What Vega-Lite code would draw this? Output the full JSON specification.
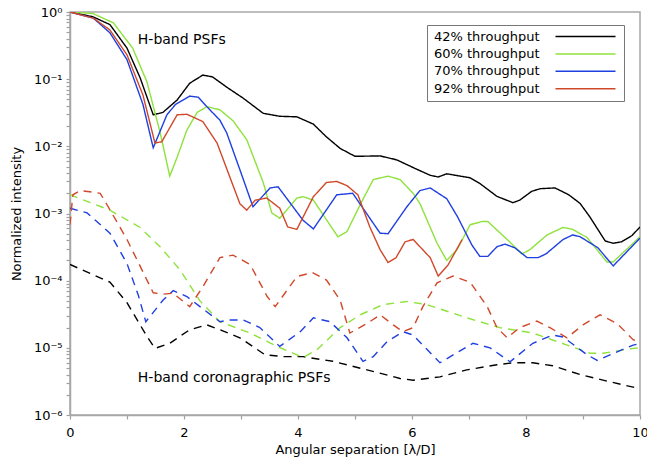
{
  "$schema": "https://vega.github.io/schema/vega-lite/v6.json",
  "width": 570,
  "height": 403,
  "autosize": {"type": "none"},
  "padding": {"left": 70, "top": 12, "right": 7, "bottom": 47},
  "background": "white",
  "config": {
    "view": {"stroke": "#a8a8a8", "strokeWidth": 1.5},
    "font": "DejaVu Sans",
    "axis": {
      "domainColor": "#a8a8a8",
      "domainWidth": 1.5,
      "tickColor": "#a0a0a0",
      "tickWidth": 1.2,
      "tickSize": 4,
      "grid": false,
      "labelColor": "#000",
      "labelFontSize": 13,
      "titleFontSize": 13,
      "titleFontWeight": "normal",
      "titleColor": "#000",
      "labelOverlap": false
    }
  },
  "datasets": {
    "notes": [
      {"separation": 1.19, "intensity": 0.383, "label": "H-band PSFs"},
      {"separation": 1.19, "intensity": 0.0000035, "label": "H-band coronagraphic PSFs"}
    ]
  },
  "layer": [
    {
      "data": {
        "values": [
          {"separation":0,"intensity":1,"series":"42% throughput","kind":"PSF"},
          {"separation":0.4,"intensity":0.85,"series":"42% throughput","kind":"PSF"},
          {"separation":0.7,"intensity":0.65,"series":"42% throughput","kind":"PSF"},
          {"separation":1.0,"intensity":0.29,"series":"42% throughput","kind":"PSF"},
          {"separation":1.23,"intensity":0.105,"series":"42% throughput","kind":"PSF"},
          {"separation":1.46,"intensity":0.0295,"series":"42% throughput","kind":"PSF"},
          {"separation":1.63,"intensity":0.032,"series":"42% throughput","kind":"PSF"},
          {"separation":1.88,"intensity":0.049,"series":"42% throughput","kind":"PSF"},
          {"separation":2.1,"intensity":0.087,"series":"42% throughput","kind":"PSF"},
          {"separation":2.33,"intensity":0.115,"series":"42% throughput","kind":"PSF"},
          {"separation":2.5,"intensity":0.108,"series":"42% throughput","kind":"PSF"},
          {"separation":2.75,"intensity":0.076,"series":"42% throughput","kind":"PSF"},
          {"separation":3.04,"intensity":0.052,"series":"42% throughput","kind":"PSF"},
          {"separation":3.39,"intensity":0.031,"series":"42% throughput","kind":"PSF"},
          {"separation":3.68,"intensity":0.028,"series":"42% throughput","kind":"PSF"},
          {"separation":3.98,"intensity":0.0275,"series":"42% throughput","kind":"PSF"},
          {"separation":4.27,"intensity":0.0214,"series":"42% throughput","kind":"PSF"},
          {"separation":4.5,"intensity":0.0138,"series":"42% throughput","kind":"PSF"},
          {"separation":4.74,"intensity":0.0093,"series":"42% throughput","kind":"PSF"},
          {"separation":5.0,"intensity":0.0071,"series":"42% throughput","kind":"PSF"},
          {"separation":5.44,"intensity":0.0072,"series":"42% throughput","kind":"PSF"},
          {"separation":5.73,"intensity":0.0063,"series":"42% throughput","kind":"PSF"},
          {"separation":6.05,"intensity":0.0047,"series":"42% throughput","kind":"PSF"},
          {"separation":6.32,"intensity":0.0037,"series":"42% throughput","kind":"PSF"},
          {"separation":6.46,"intensity":0.0035,"series":"42% throughput","kind":"PSF"},
          {"separation":6.61,"intensity":0.0039,"series":"42% throughput","kind":"PSF"},
          {"separation":7.02,"intensity":0.0034,"series":"42% throughput","kind":"PSF"},
          {"separation":7.19,"intensity":0.0028,"series":"42% throughput","kind":"PSF"},
          {"separation":7.49,"intensity":0.0018,"series":"42% throughput","kind":"PSF"},
          {"separation":7.77,"intensity":0.00145,"series":"42% throughput","kind":"PSF"},
          {"separation":7.89,"intensity":0.00158,"series":"42% throughput","kind":"PSF"},
          {"separation":8.1,"intensity":0.00214,"series":"42% throughput","kind":"PSF"},
          {"separation":8.25,"intensity":0.00234,"series":"42% throughput","kind":"PSF"},
          {"separation":8.51,"intensity":0.0024,"series":"42% throughput","kind":"PSF"},
          {"separation":8.75,"intensity":0.0019,"series":"42% throughput","kind":"PSF"},
          {"separation":8.95,"intensity":0.00141,"series":"42% throughput","kind":"PSF"},
          {"separation":9.12,"intensity":0.00089,"series":"42% throughput","kind":"PSF"},
          {"separation":9.39,"intensity":0.00039,"series":"42% throughput","kind":"PSF"},
          {"separation":9.53,"intensity":0.00036,"series":"42% throughput","kind":"PSF"},
          {"separation":9.68,"intensity":0.00038,"series":"42% throughput","kind":"PSF"},
          {"separation":9.86,"intensity":0.00047,"series":"42% throughput","kind":"PSF"},
          {"separation":10,"intensity":0.00063,"series":"42% throughput","kind":"PSF"},

          {"separation":0,"intensity":1,"series":"60% throughput","kind":"PSF"},
          {"separation":0.4,"intensity":0.95,"series":"60% throughput","kind":"PSF"},
          {"separation":0.76,"intensity":0.69,"series":"60% throughput","kind":"PSF"},
          {"separation":1.1,"intensity":0.29,"series":"60% throughput","kind":"PSF"},
          {"separation":1.35,"intensity":0.091,"series":"60% throughput","kind":"PSF"},
          {"separation":1.58,"intensity":0.0162,"series":"60% throughput","kind":"PSF"},
          {"separation":1.75,"intensity":0.0036,"series":"60% throughput","kind":"PSF"},
          {"separation":1.88,"intensity":0.0069,"series":"60% throughput","kind":"PSF"},
          {"separation":2.05,"intensity":0.0174,"series":"60% throughput","kind":"PSF"},
          {"separation":2.23,"intensity":0.032,"series":"60% throughput","kind":"PSF"},
          {"separation":2.4,"intensity":0.039,"series":"60% throughput","kind":"PSF"},
          {"separation":2.63,"intensity":0.035,"series":"60% throughput","kind":"PSF"},
          {"separation":2.86,"intensity":0.024,"series":"60% throughput","kind":"PSF"},
          {"separation":3.1,"intensity":0.0126,"series":"60% throughput","kind":"PSF"},
          {"separation":3.39,"intensity":0.0029,"series":"60% throughput","kind":"PSF"},
          {"separation":3.54,"intensity":0.00102,"series":"60% throughput","kind":"PSF"},
          {"separation":3.68,"intensity":0.00085,"series":"60% throughput","kind":"PSF"},
          {"separation":3.98,"intensity":0.0017,"series":"60% throughput","kind":"PSF"},
          {"separation":4.09,"intensity":0.00178,"series":"60% throughput","kind":"PSF"},
          {"separation":4.27,"intensity":0.00158,"series":"60% throughput","kind":"PSF"},
          {"separation":4.7,"intensity":0.00045,"series":"60% throughput","kind":"PSF"},
          {"separation":4.86,"intensity":0.00054,"series":"60% throughput","kind":"PSF"},
          {"separation":5.1,"intensity":0.0014,"series":"60% throughput","kind":"PSF"},
          {"separation":5.32,"intensity":0.0032,"series":"60% throughput","kind":"PSF"},
          {"separation":5.58,"intensity":0.0036,"series":"60% throughput","kind":"PSF"},
          {"separation":5.79,"intensity":0.0032,"series":"60% throughput","kind":"PSF"},
          {"separation":6.02,"intensity":0.002,"series":"60% throughput","kind":"PSF"},
          {"separation":6.14,"intensity":0.0014,"series":"60% throughput","kind":"PSF"},
          {"separation":6.44,"intensity":0.00036,"series":"60% throughput","kind":"PSF"},
          {"separation":6.61,"intensity":0.0002,"series":"60% throughput","kind":"PSF"},
          {"separation":6.79,"intensity":0.00029,"series":"60% throughput","kind":"PSF"},
          {"separation":7.02,"intensity":0.00068,"series":"60% throughput","kind":"PSF"},
          {"separation":7.23,"intensity":0.00076,"series":"60% throughput","kind":"PSF"},
          {"separation":7.33,"intensity":0.00076,"series":"60% throughput","kind":"PSF"},
          {"separation":7.67,"intensity":0.00041,"series":"60% throughput","kind":"PSF"},
          {"separation":7.93,"intensity":0.00025,"series":"60% throughput","kind":"PSF"},
          {"separation":8.07,"intensity":0.00029,"series":"60% throughput","kind":"PSF"},
          {"separation":8.37,"intensity":0.00048,"series":"60% throughput","kind":"PSF"},
          {"separation":8.65,"intensity":0.00062,"series":"60% throughput","kind":"PSF"},
          {"separation":8.82,"intensity":0.00058,"series":"60% throughput","kind":"PSF"},
          {"separation":9.07,"intensity":0.00044,"series":"60% throughput","kind":"PSF"},
          {"separation":9.42,"intensity":0.00019,"series":"60% throughput","kind":"PSF"},
          {"separation":9.53,"intensity":0.00019,"series":"60% throughput","kind":"PSF"},
          {"separation":10,"intensity":0.00045,"series":"60% throughput","kind":"PSF"},

          {"separation":0,"intensity":1,"series":"70% throughput","kind":"PSF"},
          {"separation":0.41,"intensity":0.81,"series":"70% throughput","kind":"PSF"},
          {"separation":0.7,"intensity":0.49,"series":"70% throughput","kind":"PSF"},
          {"separation":1.0,"intensity":0.195,"series":"70% throughput","kind":"PSF"},
          {"separation":1.28,"intensity":0.042,"series":"70% throughput","kind":"PSF"},
          {"separation":1.46,"intensity":0.0095,"series":"70% throughput","kind":"PSF"},
          {"separation":1.7,"intensity":0.0295,"series":"70% throughput","kind":"PSF"},
          {"separation":1.85,"intensity":0.042,"series":"70% throughput","kind":"PSF"},
          {"separation":2.1,"intensity":0.056,"series":"70% throughput","kind":"PSF"},
          {"separation":2.25,"intensity":0.054,"series":"70% throughput","kind":"PSF"},
          {"separation":2.4,"intensity":0.039,"series":"70% throughput","kind":"PSF"},
          {"separation":2.63,"intensity":0.0245,"series":"70% throughput","kind":"PSF"},
          {"separation":2.75,"intensity":0.0158,"series":"70% throughput","kind":"PSF"},
          {"separation":2.98,"intensity":0.0045,"series":"70% throughput","kind":"PSF"},
          {"separation":3.21,"intensity":0.00126,"series":"70% throughput","kind":"PSF"},
          {"separation":3.51,"intensity":0.0024,"series":"70% throughput","kind":"PSF"},
          {"separation":3.65,"intensity":0.0025,"series":"70% throughput","kind":"PSF"},
          {"separation":4.09,"intensity":0.00079,"series":"70% throughput","kind":"PSF"},
          {"separation":4.27,"intensity":0.00059,"series":"70% throughput","kind":"PSF"},
          {"separation":4.68,"intensity":0.0019,"series":"70% throughput","kind":"PSF"},
          {"separation":4.96,"intensity":0.002,"series":"70% throughput","kind":"PSF"},
          {"separation":5.44,"intensity":0.00051,"series":"70% throughput","kind":"PSF"},
          {"separation":5.58,"intensity":0.0005,"series":"70% throughput","kind":"PSF"},
          {"separation":5.91,"intensity":0.00126,"series":"70% throughput","kind":"PSF"},
          {"separation":6.14,"intensity":0.0022,"series":"70% throughput","kind":"PSF"},
          {"separation":6.32,"intensity":0.0024,"series":"70% throughput","kind":"PSF"},
          {"separation":6.61,"intensity":0.00166,"series":"70% throughput","kind":"PSF"},
          {"separation":6.8,"intensity":0.00089,"series":"70% throughput","kind":"PSF"},
          {"separation":7.05,"intensity":0.00034,"series":"70% throughput","kind":"PSF"},
          {"separation":7.19,"intensity":0.00023,"series":"70% throughput","kind":"PSF"},
          {"separation":7.33,"intensity":0.00023,"series":"70% throughput","kind":"PSF"},
          {"separation":7.49,"intensity":0.00032,"series":"70% throughput","kind":"PSF"},
          {"separation":7.63,"intensity":0.00035,"series":"70% throughput","kind":"PSF"},
          {"separation":7.8,"intensity":0.00031,"series":"70% throughput","kind":"PSF"},
          {"separation":8.02,"intensity":0.00022,"series":"70% throughput","kind":"PSF"},
          {"separation":8.21,"intensity":0.00022,"series":"70% throughput","kind":"PSF"},
          {"separation":8.35,"intensity":0.00025,"series":"70% throughput","kind":"PSF"},
          {"separation":8.65,"intensity":0.00041,"series":"70% throughput","kind":"PSF"},
          {"separation":8.82,"intensity":0.00048,"series":"70% throughput","kind":"PSF"},
          {"separation":8.95,"intensity":0.00045,"series":"70% throughput","kind":"PSF"},
          {"separation":9.26,"intensity":0.00031,"series":"70% throughput","kind":"PSF"},
          {"separation":9.53,"intensity":0.000166,"series":"70% throughput","kind":"PSF"},
          {"separation":10,"intensity":0.00043,"series":"70% throughput","kind":"PSF"},

          {"separation":0,"intensity":1,"series":"92% throughput","kind":"PSF"},
          {"separation":0.41,"intensity":0.81,"series":"92% throughput","kind":"PSF"},
          {"separation":0.7,"intensity":0.54,"series":"92% throughput","kind":"PSF"},
          {"separation":1.0,"intensity":0.23,"series":"92% throughput","kind":"PSF"},
          {"separation":1.28,"intensity":0.058,"series":"92% throughput","kind":"PSF"},
          {"separation":1.49,"intensity":0.0112,"series":"92% throughput","kind":"PSF"},
          {"separation":1.61,"intensity":0.0117,"series":"92% throughput","kind":"PSF"},
          {"separation":1.88,"intensity":0.0295,"series":"92% throughput","kind":"PSF"},
          {"separation":2.05,"intensity":0.03,"series":"92% throughput","kind":"PSF"},
          {"separation":2.33,"intensity":0.0234,"series":"92% throughput","kind":"PSF"},
          {"separation":2.58,"intensity":0.0112,"series":"92% throughput","kind":"PSF"},
          {"separation":2.98,"intensity":0.0014,"series":"92% throughput","kind":"PSF"},
          {"separation":3.1,"intensity":0.00112,"series":"92% throughput","kind":"PSF"},
          {"separation":3.25,"intensity":0.00158,"series":"92% throughput","kind":"PSF"},
          {"separation":3.45,"intensity":0.0017,"series":"92% throughput","kind":"PSF"},
          {"separation":3.68,"intensity":0.0012,"series":"92% throughput","kind":"PSF"},
          {"separation":3.82,"intensity":0.00063,"series":"92% throughput","kind":"PSF"},
          {"separation":3.98,"intensity":0.00058,"series":"92% throughput","kind":"PSF"},
          {"separation":4.27,"intensity":0.00178,"series":"92% throughput","kind":"PSF"},
          {"separation":4.5,"intensity":0.0029,"series":"92% throughput","kind":"PSF"},
          {"separation":4.68,"intensity":0.003,"series":"92% throughput","kind":"PSF"},
          {"separation":4.86,"intensity":0.0026,"series":"92% throughput","kind":"PSF"},
          {"separation":5.05,"intensity":0.0019,"series":"92% throughput","kind":"PSF"},
          {"separation":5.26,"intensity":0.00063,"series":"92% throughput","kind":"PSF"},
          {"separation":5.44,"intensity":0.00029,"series":"92% throughput","kind":"PSF"},
          {"separation":5.58,"intensity":0.000186,"series":"92% throughput","kind":"PSF"},
          {"separation":5.72,"intensity":0.00022,"series":"92% throughput","kind":"PSF"},
          {"separation":5.88,"intensity":0.00038,"series":"92% throughput","kind":"PSF"},
          {"separation":6.02,"intensity":0.00041,"series":"92% throughput","kind":"PSF"},
          {"separation":6.32,"intensity":0.00022,"series":"92% throughput","kind":"PSF"},
          {"separation":6.46,"intensity":0.000117,"series":"92% throughput","kind":"PSF"},
          {"separation":6.63,"intensity":0.00017,"series":"92% throughput","kind":"PSF"},
          {"separation":6.88,"intensity":0.00041,"series":"92% throughput","kind":"PSF"},

          {"separation":0,"intensity":0.000174,"series":"42% throughput","kind":"coronagraphic"},
          {"separation":0.7,"intensity":0.000095,"series":"42% throughput","kind":"coronagraphic"},
          {"separation":1.0,"intensity":0.000047,"series":"42% throughput","kind":"coronagraphic"},
          {"separation":1.35,"intensity":0.0000148,"series":"42% throughput","kind":"coronagraphic"},
          {"separation":1.49,"intensity":0.0000098,"series":"42% throughput","kind":"coronagraphic"},
          {"separation":1.75,"intensity":0.0000117,"series":"42% throughput","kind":"coronagraphic"},
          {"separation":2.1,"intensity":0.0000186,"series":"42% throughput","kind":"coronagraphic"},
          {"separation":2.4,"intensity":0.000022,"series":"42% throughput","kind":"coronagraphic"},
          {"separation":2.63,"intensity":0.0000186,"series":"42% throughput","kind":"coronagraphic"},
          {"separation":2.98,"intensity":0.0000141,"series":"42% throughput","kind":"coronagraphic"},
          {"separation":3.42,"intensity":0.0000079,"series":"42% throughput","kind":"coronagraphic"},
          {"separation":3.74,"intensity":0.0000074,"series":"42% throughput","kind":"coronagraphic"},
          {"separation":4.09,"intensity":0.0000074,"series":"42% throughput","kind":"coronagraphic"},
          {"separation":4.61,"intensity":0.0000063,"series":"42% throughput","kind":"coronagraphic"},
          {"separation":5.21,"intensity":0.0000047,"series":"42% throughput","kind":"coronagraphic"},
          {"separation":5.79,"intensity":0.0000035,"series":"42% throughput","kind":"coronagraphic"},
          {"separation":6.02,"intensity":0.0000033,"series":"42% throughput","kind":"coronagraphic"},
          {"separation":6.49,"intensity":0.0000037,"series":"42% throughput","kind":"coronagraphic"},
          {"separation":6.96,"intensity":0.0000047,"series":"42% throughput","kind":"coronagraphic"},
          {"separation":7.49,"intensity":0.0000056,"series":"42% throughput","kind":"coronagraphic"},
          {"separation":7.77,"intensity":0.000006,"series":"42% throughput","kind":"coronagraphic"},
          {"separation":8.12,"intensity":0.000006,"series":"42% throughput","kind":"coronagraphic"},
          {"separation":8.47,"intensity":0.0000054,"series":"42% throughput","kind":"coronagraphic"},
          {"separation":8.95,"intensity":0.000004,"series":"42% throughput","kind":"coronagraphic"},
          {"separation":9.42,"intensity":0.0000032,"series":"42% throughput","kind":"coronagraphic"},
          {"separation":9.88,"intensity":0.0000026,"series":"42% throughput","kind":"coronagraphic"},
          {"separation":10,"intensity":0.0000025,"series":"42% throughput","kind":"coronagraphic"},

          {"separation":0,"intensity":0.0019,"series":"60% throughput","kind":"coronagraphic"},
          {"separation":0.7,"intensity":0.00112,"series":"60% throughput","kind":"coronagraphic"},
          {"separation":1.23,"intensity":0.00062,"series":"60% throughput","kind":"coronagraphic"},
          {"separation":1.58,"intensity":0.00032,"series":"60% throughput","kind":"coronagraphic"},
          {"separation":1.93,"intensity":0.000145,"series":"60% throughput","kind":"coronagraphic"},
          {"separation":2.28,"intensity":0.00005,"series":"60% throughput","kind":"coronagraphic"},
          {"separation":2.63,"intensity":0.0000245,"series":"60% throughput","kind":"coronagraphic"},
          {"separation":3.16,"intensity":0.0000166,"series":"60% throughput","kind":"coronagraphic"},
          {"separation":3.63,"intensity":0.0000105,"series":"60% throughput","kind":"coronagraphic"},
          {"separation":4.09,"intensity":0.0000072,"series":"60% throughput","kind":"coronagraphic"},
          {"separation":4.33,"intensity":0.0000093,"series":"60% throughput","kind":"coronagraphic"},
          {"separation":4.74,"intensity":0.00002,"series":"60% throughput","kind":"coronagraphic"},
          {"separation":5.09,"intensity":0.000031,"series":"60% throughput","kind":"coronagraphic"},
          {"separation":5.49,"intensity":0.000044,"series":"60% throughput","kind":"coronagraphic"},
          {"separation":5.91,"intensity":0.000049,"series":"60% throughput","kind":"coronagraphic"},
          {"separation":6.26,"intensity":0.000044,"series":"60% throughput","kind":"coronagraphic"},
          {"separation":6.96,"intensity":0.000028,"series":"60% throughput","kind":"coronagraphic"},
          {"separation":7.54,"intensity":0.00002,"series":"60% throughput","kind":"coronagraphic"},
          {"separation":8.12,"intensity":0.0000166,"series":"60% throughput","kind":"coronagraphic"},
          {"separation":8.72,"intensity":0.000011,"series":"60% throughput","kind":"coronagraphic"},
          {"separation":9.12,"intensity":0.0000083,"series":"60% throughput","kind":"coronagraphic"},
          {"separation":9.35,"intensity":0.0000083,"series":"60% throughput","kind":"coronagraphic"},
          {"separation":9.88,"intensity":0.0000098,"series":"60% throughput","kind":"coronagraphic"},
          {"separation":10,"intensity":0.00001,"series":"60% throughput","kind":"coronagraphic"},

          {"separation":0,"intensity":0.0012,"series":"70% throughput","kind":"coronagraphic"},
          {"separation":0.3,"intensity":0.00102,"series":"70% throughput","kind":"coronagraphic"},
          {"separation":0.7,"intensity":0.00051,"series":"70% throughput","kind":"coronagraphic"},
          {"separation":1.0,"intensity":0.00018,"series":"70% throughput","kind":"coronagraphic"},
          {"separation":1.2,"intensity":0.00006,"series":"70% throughput","kind":"coronagraphic"},
          {"separation":1.33,"intensity":0.0000245,"series":"70% throughput","kind":"coronagraphic"},
          {"separation":1.63,"intensity":0.000051,"series":"70% throughput","kind":"coronagraphic"},
          {"separation":1.81,"intensity":0.000071,"series":"70% throughput","kind":"coronagraphic"},
          {"separation":2.05,"intensity":0.000058,"series":"70% throughput","kind":"coronagraphic"},
          {"separation":2.28,"intensity":0.000041,"series":"70% throughput","kind":"coronagraphic"},
          {"separation":2.63,"intensity":0.0000245,"series":"70% throughput","kind":"coronagraphic"},
          {"separation":2.8,"intensity":0.000026,"series":"70% throughput","kind":"coronagraphic"},
          {"separation":3.04,"intensity":0.000026,"series":"70% throughput","kind":"coronagraphic"},
          {"separation":3.33,"intensity":0.00002,"series":"70% throughput","kind":"coronagraphic"},
          {"separation":3.68,"intensity":0.0000105,"series":"70% throughput","kind":"coronagraphic"},
          {"separation":4.04,"intensity":0.0000174,"series":"70% throughput","kind":"coronagraphic"},
          {"separation":4.27,"intensity":0.000028,"series":"70% throughput","kind":"coronagraphic"},
          {"separation":4.56,"intensity":0.0000245,"series":"70% throughput","kind":"coronagraphic"},
          {"separation":4.86,"intensity":0.0000141,"series":"70% throughput","kind":"coronagraphic"},
          {"separation":5.14,"intensity":0.0000063,"series":"70% throughput","kind":"coronagraphic"},
          {"separation":5.32,"intensity":0.0000074,"series":"70% throughput","kind":"coronagraphic"},
          {"separation":5.56,"intensity":0.0000123,"series":"70% throughput","kind":"coronagraphic"},
          {"separation":5.84,"intensity":0.0000174,"series":"70% throughput","kind":"coronagraphic"},
          {"separation":6.02,"intensity":0.0000155,"series":"70% throughput","kind":"coronagraphic"},
          {"separation":6.49,"intensity":0.000006,"series":"70% throughput","kind":"coronagraphic"},
          {"separation":7.07,"intensity":0.0000117,"series":"70% throughput","kind":"coronagraphic"},
          {"separation":7.37,"intensity":0.00001,"series":"70% throughput","kind":"coronagraphic"},
          {"separation":7.72,"intensity":0.0000062,"series":"70% throughput","kind":"coronagraphic"},
          {"separation":8.12,"intensity":0.0000117,"series":"70% throughput","kind":"coronagraphic"},
          {"separation":8.47,"intensity":0.0000155,"series":"70% throughput","kind":"coronagraphic"},
          {"separation":8.65,"intensity":0.0000145,"series":"70% throughput","kind":"coronagraphic"},
          {"separation":9.07,"intensity":0.0000079,"series":"70% throughput","kind":"coronagraphic"},
          {"separation":9.25,"intensity":0.0000065,"series":"70% throughput","kind":"coronagraphic"},
          {"separation":9.88,"intensity":0.000011,"series":"70% throughput","kind":"coronagraphic"},
          {"separation":10,"intensity":0.0000115,"series":"70% throughput","kind":"coronagraphic"},

          {"separation":0,"intensity":0.00068,"series":"92% throughput","kind":"coronagraphic"},
          {"separation":0.05,"intensity":0.0019,"series":"92% throughput","kind":"coronagraphic"},
          {"separation":0.18,"intensity":0.0022,"series":"92% throughput","kind":"coronagraphic"},
          {"separation":0.53,"intensity":0.002,"series":"92% throughput","kind":"coronagraphic"},
          {"separation":0.65,"intensity":0.00135,"series":"92% throughput","kind":"coronagraphic"},
          {"separation":1.0,"intensity":0.00041,"series":"92% throughput","kind":"coronagraphic"},
          {"separation":1.35,"intensity":0.000102,"series":"92% throughput","kind":"coronagraphic"},
          {"separation":1.46,"intensity":0.000066,"series":"92% throughput","kind":"coronagraphic"},
          {"separation":1.63,"intensity":0.000063,"series":"92% throughput","kind":"coronagraphic"},
          {"separation":1.81,"intensity":0.000065,"series":"92% throughput","kind":"coronagraphic"},
          {"separation":2.1,"intensity":0.000041,"series":"92% throughput","kind":"coronagraphic"},
          {"separation":2.33,"intensity":0.000081,"series":"92% throughput","kind":"coronagraphic"},
          {"separation":2.63,"intensity":0.00022,"series":"92% throughput","kind":"coronagraphic"},
          {"separation":2.86,"intensity":0.00024,"series":"92% throughput","kind":"coronagraphic"},
          {"separation":3.16,"intensity":0.000174,"series":"92% throughput","kind":"coronagraphic"},
          {"separation":3.46,"intensity":0.000058,"series":"92% throughput","kind":"coronagraphic"},
          {"separation":3.6,"intensity":0.000041,"series":"92% throughput","kind":"coronagraphic"},
          {"separation":3.98,"intensity":0.000115,"series":"92% throughput","kind":"coronagraphic"},
          {"separation":4.25,"intensity":0.000132,"series":"92% throughput","kind":"coronagraphic"},
          {"separation":4.5,"intensity":0.000102,"series":"92% throughput","kind":"coronagraphic"},
          {"separation":4.74,"intensity":0.000051,"series":"92% throughput","kind":"coronagraphic"},
          {"separation":4.91,"intensity":0.0000166,"series":"92% throughput","kind":"coronagraphic"},
          {"separation":5.21,"intensity":0.000023,"series":"92% throughput","kind":"coronagraphic"},
          {"separation":5.44,"intensity":0.000031,"series":"92% throughput","kind":"coronagraphic"},
          {"separation":5.67,"intensity":0.000022,"series":"92% throughput","kind":"coronagraphic"},
          {"separation":5.84,"intensity":0.0000174,"series":"92% throughput","kind":"coronagraphic"},
          {"separation":6.02,"intensity":0.00002,"series":"92% throughput","kind":"coronagraphic"},
          {"separation":6.19,"intensity":0.000041,"series":"92% throughput","kind":"coronagraphic"},
          {"separation":6.44,"intensity":0.000093,"series":"92% throughput","kind":"coronagraphic"},
          {"separation":6.72,"intensity":0.000117,"series":"92% throughput","kind":"coronagraphic"},
          {"separation":7.02,"intensity":0.000095,"series":"92% throughput","kind":"coronagraphic"},
          {"separation":7.32,"intensity":0.000041,"series":"92% throughput","kind":"coronagraphic"},
          {"separation":7.49,"intensity":0.00002,"series":"92% throughput","kind":"coronagraphic"},
          {"separation":7.67,"intensity":0.0000141,"series":"92% throughput","kind":"coronagraphic"},
          {"separation":7.89,"intensity":0.00002,"series":"92% throughput","kind":"coronagraphic"},
          {"separation":8.19,"intensity":0.000025,"series":"92% throughput","kind":"coronagraphic"},
          {"separation":8.42,"intensity":0.00002,"series":"92% throughput","kind":"coronagraphic"},
          {"separation":8.72,"intensity":0.0000141,"series":"92% throughput","kind":"coronagraphic"},
          {"separation":9.0,"intensity":0.000022,"series":"92% throughput","kind":"coronagraphic"},
          {"separation":9.3,"intensity":0.000031,"series":"92% throughput","kind":"coronagraphic"},
          {"separation":9.6,"intensity":0.000023,"series":"92% throughput","kind":"coronagraphic"},
          {"separation":9.88,"intensity":0.0000132,"series":"92% throughput","kind":"coronagraphic"},
          {"separation":10,"intensity":0.000012,"series":"92% throughput","kind":"coronagraphic"}
        ]
      },
      "mark": {"type": "line", "strokeWidth": 1.4, "clip": true},
      "encoding": {
        "x": {
          "field": "separation", "type": "quantitative",
          "scale": {"domain": [0, 10], "nice": false, "zero": false},
          "axis": {
            "orient": "bottom",
            "title": "Angular separation [λ/D]",
            "values": [0,0.5,1,1.5,2,2.5,3,3.5,4,4.5,5,5.5,6,6.5,7,7.5,8,8.5,9,9.5,10],
            "labelExpr": "datum.value % 2 == 0 ? format(datum.value, 'd') : ''",
            "labelFlush": false,
            "labelPadding": 7,
            "titlePadding": 4
          }
        },
        "y": {
          "field": "intensity", "type": "quantitative",
          "scale": {"type": "log", "domain": [0.000001, 1], "nice": false},
          "axis": {
            "orient": "left",
            "title": "Normalized intensity",
            "values": [0.000001,0.000002,0.000003,0.000004,0.000005,0.000006,0.000007,0.000008,0.000009,0.00001,0.00002,0.00003,0.00004,0.00005,0.00006,0.00007,0.00008,0.00009,0.0001,0.0002,0.0003,0.0004,0.0005,0.0006,0.0007,0.0008,0.0009,0.001,0.002,0.003,0.004,0.005,0.006,0.007,0.008,0.009,0.01,0.02,0.03,0.04,0.05,0.06,0.07,0.08,0.09,0.1,0.2,0.3,0.4,0.5,0.6,0.7,0.8,0.9,1],
            "labelExpr": "datum.value == 1 ? '10⁰' : datum.value == 0.1 ? '10⁻¹' : datum.value == 0.01 ? '10⁻²' : datum.value == 0.001 ? '10⁻³' : datum.value == 0.0001 ? '10⁻⁴' : datum.value == 0.00001 ? '10⁻⁵' : datum.value == 0.000001 ? '10⁻⁶' : ''",
            "labelPadding": 4,
            "titlePadding": 10
          }
        },
        "color": {
          "field": "series", "type": "nominal",
          "scale": {
            "domain": ["42% throughput", "60% throughput", "70% throughput", "92% throughput"],
            "range": ["#000000", "#8ee23c", "#1f3fe0", "#d0482a"]
          },
          "legend": {
            "title": null,
            "orient": "none",
            "legendX": 357,
            "legendY": 13,
            "strokeColor": "#777777",
            "fillColor": "white",
            "padding": 5,
            "symbolType": "M-6,0H6",
            "symbolSize": 100,
            "symbolFillColor": "transparent",
            "symbolStrokeWidth": 1.5,
            "rowPadding": 3.4,
            "labelOffset": -158,
            "symbolOffset": 147,
            "labelFontSize": 13,
            "labelColor": "#000"
          }
        },
        "strokeDash": {
          "field": "kind", "type": "nominal",
          "scale": {"domain": ["PSF", "coronagraphic"], "range": [[1, 0], [8, 6]]},
          "legend": null
        }
      }
    },
    {
      "data": {"name": "notes"},
      "mark": {"type": "text", "align": "left", "baseline": "middle", "fontSize": 14, "color": "#000"},
      "encoding": {
        "x": {"field": "separation", "type": "quantitative"},
        "y": {"field": "intensity", "type": "quantitative"},
        "text": {"field": "label", "type": "nominal"}
      }
    }
  ]
}
